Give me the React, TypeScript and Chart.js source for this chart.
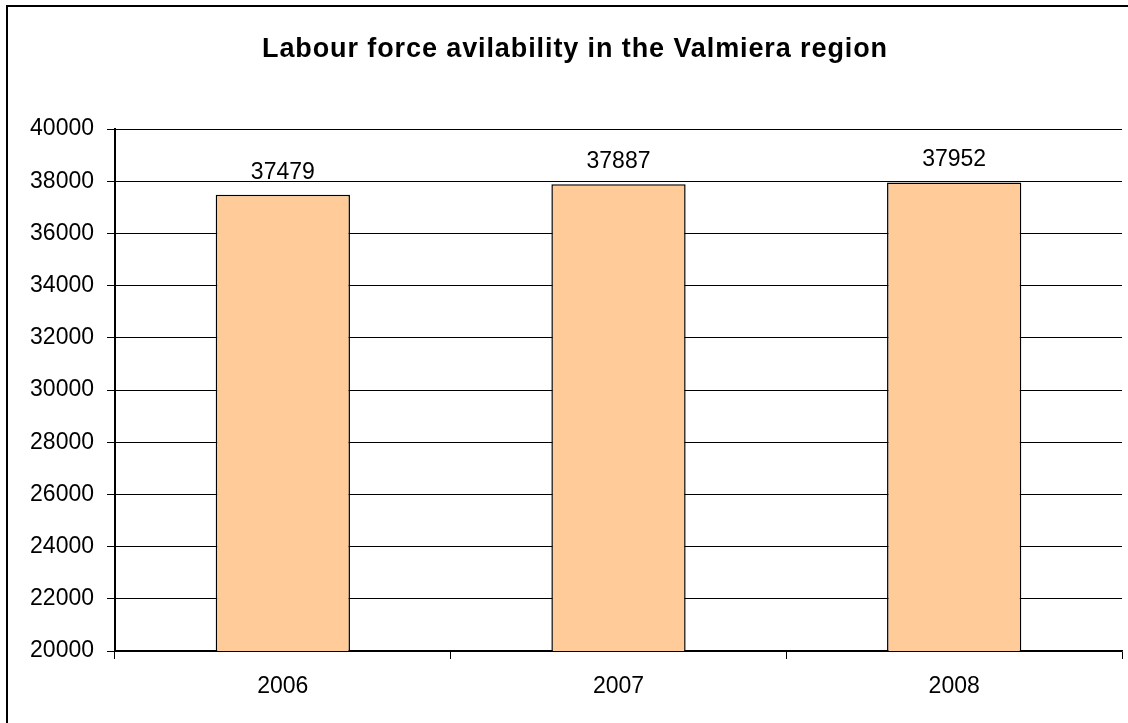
import React, { useEffect, useRef } from "react";
import { Chart, registerables } from "chart.js";

Chart.register(...registerables);

const TITLE = "Labour force avilability in the Valmiera region";
const categories = ["2006", "2007", "2008"];
const values = [37479, 37887, 37952];
const yMin = 20000;
const yMax = 40000;
const yStep = 2000;

const FONT = "'Liberation Sans', Arial, Helvetica, sans-serif";

const framePlugin = {
  id: "frame",
  beforeDraw(chart: any) {
    const ctx = chart.ctx;
    ctx.save();
    ctx.fillStyle = "#ffffff";
    ctx.fillRect(0, 0, chart.width, chart.height);
    ctx.strokeStyle = "#000000";
    ctx.lineWidth = 2;
    ctx.strokeRect(7, 6, 1300, 900);
    ctx.restore();
  },
  afterDraw(chart: any) {
    const ctx = chart.ctx;
    ctx.save();
    ctx.fillStyle = "#000000";
    ctx.font = `bold 27px ${FONT}`;
    try {
      (ctx as any).letterSpacing = "0.9px";
    } catch (e) {}
    ctx.textAlign = "center";
    ctx.textBaseline = "alphabetic";
    ctx.fillText(TITLE, 575, 57);
    ctx.restore();
  },
};

const labelPlugin = {
  id: "valueLabels",
  afterDatasetsDraw(chart: any) {
    const ctx = chart.ctx;
    const meta = chart.getDatasetMeta(0);
    const data = chart.data.datasets[0].data as number[];
    ctx.save();
    ctx.fillStyle = "#000000";
    ctx.font = `23px ${FONT}`;
    ctx.textAlign = "center";
    ctx.textBaseline = "alphabetic";
    meta.data.forEach((bar: any, i: number) => {
      ctx.fillText(String(data[i]), bar.x, bar.y - 16);
    });
    ctx.restore();
  },
};

export default function App() {
  const ref = useRef<HTMLCanvasElement | null>(null);

  useEffect(() => {
    if (!ref.current) return;
    const chart = new Chart(ref.current, {
      type: "bar",
      data: {
        labels: categories,
        datasets: [
          {
            data: values,
            backgroundColor: "#FFCC99",
            borderColor: "#000000",
            borderWidth: 1.5,
            categoryPercentage: 1,
            barPercentage: 0.4,
          },
        ],
      },
      options: {
        animation: false,
        responsive: false,
        devicePixelRatio: 1,
        layout: { padding: { top: 129, right: 6, bottom: 0, left: 0 } },
        plugins: {
          legend: { display: false },
          title: { display: false },
          tooltip: { enabled: false },
        },
        scales: {
          x: {
            grid: {
              display: true,
              drawOnChartArea: false,
              drawTicks: true,
              tickLength: 8,
              color: "#000000",
              lineWidth: 1,
              offset: true,
            },
            border: { display: true, color: "#000000", width: 1.5 },
            ticks: {
              color: "#000000",
              font: { family: FONT, size: 23 },
              padding: 14,
            },
            afterFit(scale: any) {
              scale.height = 72;
            },
          },
          y: {
            min: yMin,
            max: yMax,
            grid: {
              color: "#000000",
              lineWidth: 1,
              tickLength: 8,
              drawTicks: true,
            },
            border: { display: true, color: "#000000", width: 2 },
            ticks: {
              stepSize: yStep,
              color: "#000000",
              font: { family: FONT, size: 23 },
              padding: 13,
              callback: (v: any) => String(v),
            },
            afterFit(scale: any) {
              scale.width = 115;
            },
          },
        },
      },
      plugins: [framePlugin, labelPlugin],
    });
    return () => chart.destroy();
  }, []);

  return (
    <div
      style={{
        position: "fixed",
        left: 0,
        top: 0,
        width: 1128,
        height: 723,
        background: "#ffffff",
      }}
    >
      <canvas ref={ref} width={1128} height={723} style={{ display: "block" }} />
    </div>
  );
}
